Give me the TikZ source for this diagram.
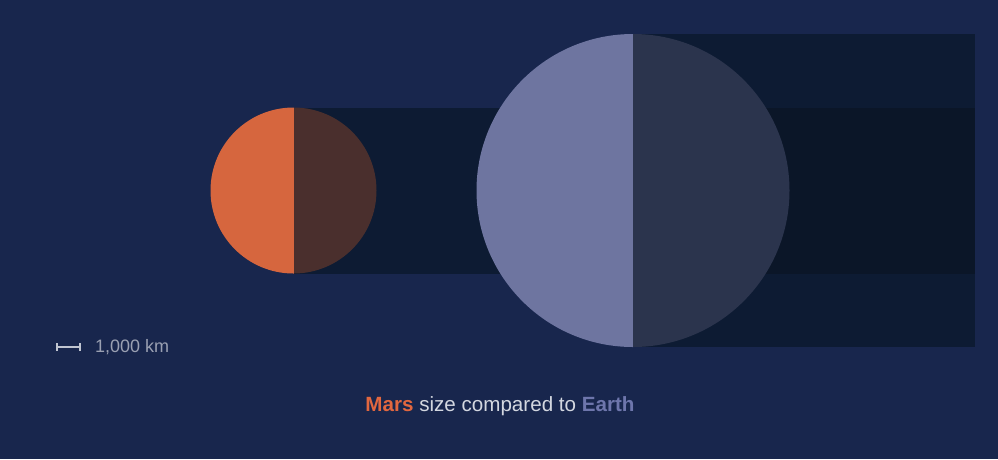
\documentclass[tikz,border=0pt]{standalone}
\usepackage{fontspec}
\setmainfont{Liberation Sans}
\definecolor{bg}{HTML}{18264D}
\definecolor{shadowA}{HTML}{0D1B33}
\definecolor{shadowB}{HTML}{0B1628}
\definecolor{marsL}{HTML}{D6663E}
\definecolor{marsD}{HTML}{4A2F2D}
\definecolor{earthL}{HTML}{6E75A0}
\definecolor{earthD}{HTML}{2B344D}
\definecolor{captxt}{HTML}{D3D7E0}
\definecolor{scaletxt}{HTML}{9AA0B2}
\definecolor{earthtxt}{HTML}{6E76AC}
\definecolor{marstxt}{HTML}{E2673F}
\begin{document}
\begin{tikzpicture}[x=1pt,y=-1pt,
  label/.style={inner sep=0pt, font=\fontsize{18}{20}\selectfont, text=scaletxt},
  caption/.style={inner sep=0pt, font=\fontsize{20.6}{23}\selectfont, text=captxt}]
\fill[bg] (0,0) rectangle (998,459);
\useasboundingbox (0,0) rectangle (998,459);
% shadows
\fill[shadowA] (633,34) rectangle (975,347);
\fill[shadowA] (293.5,107.5) rectangle (633,273.5);
\fill[shadowB] (633,107.5) rectangle (975,273.5);
% Mars
\begin{scope}
  \clip (293.5,190.5) circle (83);
  \fill[marsL] (200,100) rectangle (293.5,280);
  \fill[marsD] (293.5,100) rectangle (390,280);
\end{scope}
% Earth
\begin{scope}
  \clip (633,190.5) circle (156.5);
  \fill[earthL] (470,30) rectangle (633,350);
  \fill[earthD] (633,30) rectangle (800,350);
\end{scope}
% scale bar
\coordinate (sa) at (57,347);
\coordinate (sb) at (80,347);
\draw[captxt!90!bg, line width=1.8pt] (sa) -- (sb);
\draw[captxt!90!bg, line width=2pt] ([yshift=-4pt]sa) -- ([yshift=4pt]sa);
\draw[captxt!90!bg, line width=2pt] ([yshift=-4pt]sb) -- ([yshift=4pt]sb);
\node[label, anchor=west] (scale) at (95,347) {1,000 km};
\node[caption] (cap) at (500,406.5) {{\bfseries\color{marstxt}Mars} size compared to {\bfseries\color{earthtxt}Earth}};
\end{tikzpicture}
\end{document}
